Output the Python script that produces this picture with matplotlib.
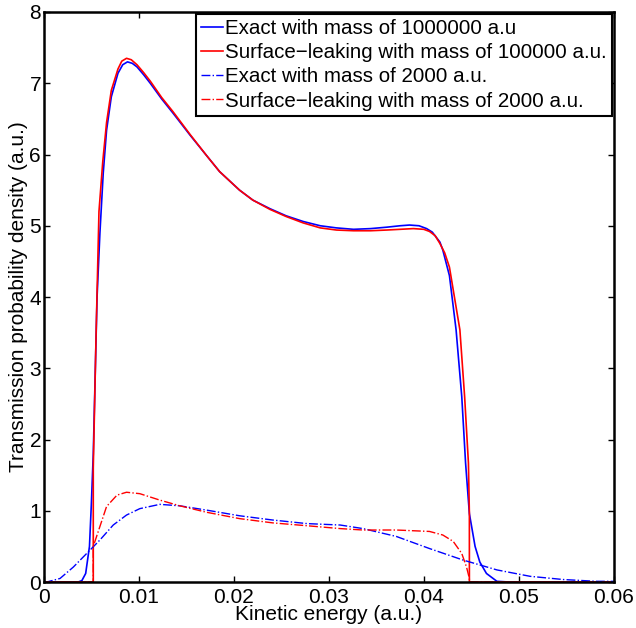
import matplotlib
matplotlib.use("Agg")
import matplotlib.pyplot as plt

plt.rcParams['font.family'] = ['Liberation Sans', 'DejaVu Sans']

# Exact, mass 1000000 a.u.
x_exact_heavy = [0.0, 0.0036, 0.0040, 0.0044, 0.0048, 0.0050, 0.0052, 0.0054, 0.0056,
                 0.0059, 0.00625, 0.0066, 0.0071, 0.0078, 0.0083, 0.0088, 0.0093,
                 0.0098, 0.0105, 0.0112, 0.0124, 0.0136, 0.0154, 0.0171, 0.0185,
                 0.0206, 0.0220, 0.0238, 0.0255, 0.0273, 0.0291, 0.0308, 0.0326,
                 0.0344, 0.0361, 0.0375, 0.0385, 0.0395, 0.0403, 0.0409, 0.0413,
                 0.0417, 0.0420, 0.0427, 0.0434, 0.0440, 0.0444, 0.0448, 0.0454,
                 0.0459, 0.0466, 0.0477, 0.049, 0.06]
y_exact_heavy = [0.0, 0.0, 0.02, 0.12, 0.5, 1.1, 1.8, 2.9, 4.0,
                 4.9, 5.74, 6.34, 6.81, 7.14, 7.26, 7.30, 7.28,
                 7.23, 7.12, 7.0, 6.78, 6.58, 6.27, 5.99, 5.76,
                 5.50, 5.36, 5.24, 5.14, 5.06, 5.00, 4.97, 4.95,
                 4.96, 4.98, 5.00, 5.01, 5.00, 4.96, 4.91, 4.84,
                 4.77, 4.66, 4.30, 3.54, 2.60, 1.67, 0.96, 0.50,
                 0.28, 0.12, 0.01, 0.0, 0.0]

# Surface-leaking, mass 100000 a.u.
x_leak_heavy = [0.0, 0.0052, 0.0052, 0.0055, 0.0058, 0.0062, 0.0066, 0.0071, 0.0078,
                0.0082, 0.0087, 0.0092, 0.0098, 0.0105, 0.0112, 0.0124, 0.0136,
                0.0154, 0.0171, 0.0185, 0.0206, 0.0220, 0.0238, 0.0255, 0.0273,
                0.0291, 0.0308, 0.0326, 0.0344, 0.0361, 0.0375, 0.0389, 0.0400,
                0.0406, 0.0412, 0.0417, 0.0422, 0.0427, 0.0438, 0.0443, 0.0447,
                0.0448, 0.0448, 0.06]
y_leak_heavy = [0.0, 0.0, 1.6, 3.5, 5.2, 5.9, 6.45, 6.9, 7.2,
                7.31, 7.35, 7.33, 7.26, 7.15, 7.03, 6.8, 6.6,
                6.28, 5.99, 5.76, 5.50, 5.36, 5.23, 5.13, 5.04,
                4.97, 4.94, 4.93, 4.93, 4.94, 4.95, 4.96, 4.95,
                4.92, 4.86, 4.75, 4.62, 4.42, 3.54, 2.60, 1.67,
                0.96, 0.0, 0.0]

# Exact, mass 2000 a.u.
x_exact_light = [0.0, 0.0003, 0.0017, 0.0031, 0.0045, 0.0059, 0.0073, 0.0087, 0.0101,
                 0.0122, 0.0143, 0.0171, 0.0206, 0.0241, 0.0277, 0.0312, 0.0336,
                 0.0371, 0.0406, 0.0441, 0.0477, 0.0512, 0.0547, 0.0582, 0.06]
y_exact_light = [0.0, 0.0, 0.05, 0.21, 0.40, 0.59, 0.80, 0.94, 1.03,
                 1.09, 1.07, 1.01, 0.93, 0.87, 0.82, 0.80, 0.75,
                 0.64, 0.47, 0.31, 0.17, 0.08, 0.035, 0.01, 0.01]

# Surface-leaking, mass 2000 a.u.
x_leak_light = [0.0, 0.0052, 0.0052, 0.0059, 0.0066, 0.0077, 0.0087, 0.0101, 0.0122,
                0.0143, 0.0171, 0.0206, 0.0241, 0.0277, 0.0312, 0.0336, 0.0371,
                0.0406, 0.0420, 0.0431, 0.0440, 0.0445, 0.0448, 0.0448, 0.06]
y_leak_light = [0.0, 0.0, 0.5, 0.78, 1.06, 1.22, 1.26, 1.24, 1.15,
                1.07, 0.98, 0.89, 0.83, 0.79, 0.75, 0.73, 0.73,
                0.71, 0.66, 0.57, 0.40, 0.21, 0.05, 0.0, 0.0]

labels = ["Exact with mass of 1000000 a.u",
          "Surface\u2212leaking with mass of 100000 a.u.",
          "Exact with mass of 2000 a.u.",
          "Surface\u2212leaking with mass of 2000 a.u."]

fig = plt.figure(figsize=(6.36, 6.28), dpi=100)
ax = fig.add_axes([0.069, 0.0732, 0.896, 0.9077])

ax.plot(x_exact_heavy, y_exact_heavy, color='blue', lw=1.2, label=labels[0])
ax.plot(x_leak_heavy, y_leak_heavy, color='red', lw=1.2, label=labels[1])
ax.plot(x_exact_light, y_exact_light, color='blue', lw=1.0, ls='-.', label=labels[2])
ax.plot(x_leak_light, y_leak_light, color='red', lw=1.0, ls='-.', label=labels[3])

ax.set_xlim(0, 0.06)
ax.set_ylim(0, 8)
ax.set_xticks([0, 0.01, 0.02, 0.03, 0.04, 0.05, 0.06])
ax.set_xticklabels(["0", "0.01", "0.02", "0.03", "0.04", "0.05", "0.06"])
ax.set_yticks(range(0, 9))
ax.tick_params(direction='in', top=True, right=True, labelsize=15, length=4, width=1)
ax.tick_params(axis='y', pad=2)
ax.tick_params(axis='x', pad=4)
for s in ax.spines.values():
    s.set_linewidth(1.8)

ax.set_xlabel("Kinetic energy (a.u.)", fontsize=15, labelpad=-1)
ax.set_ylabel("Transmission probability density (a.u.)", fontsize=15, labelpad=1)

leg = ax.legend(loc='upper right', fontsize=14.8, handlelength=1.05, handletextpad=0.1,
                labelspacing=0.25, borderpad=0.25, borderaxespad=0.1, fancybox=False,
                framealpha=1, edgecolor='black')
leg.get_frame().set_linewidth(1.5)

fig.savefig("out.png", dpi=100)
